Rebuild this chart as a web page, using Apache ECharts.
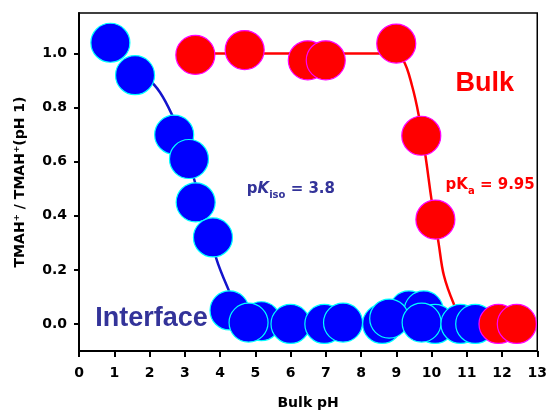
<!DOCTYPE html>
<html>
<head>
<meta charset="utf-8">
<script src="https://cdn.jsdelivr.net/npm/echarts@6/dist/echarts.min.js"></script>
<style>
html,body{margin:0;padding:0;background:#fff;}
#chart{width:550px;height:415px;}
</style>
</head>
<body>
<div id="chart"></div>
<script>
// ---- data ----
const interfacePH  = [0.89, 1.59, 2.70, 3.12, 3.31, 3.80, 4.27, 5.17, 4.81, 6.00, 6.96, 7.49, 8.60, 9.36, 9.78, 8.80, 10.10, 9.72, 10.82, 11.24];
const interfaceVal = [1.04, 0.92, 0.70, 0.61, 0.45, 0.32, 0.05, 0.01, 0.005, 0.0, 0.0, 0.005, 0.0, 0.05, 0.05, 0.02, 0.0, 0.005, 0.0, 0.0];

const bulkPH  = [3.30, 4.70, 6.49, 7.00, 9.00, 9.71, 10.11, 11.90, 12.42];
const bulkVal = [0.995, 1.013, 0.975, 0.975, 1.037, 0.696, 0.386, 0.0, 0.0];

// fitted curves
const interfaceFitPH  = [1.59, 2.00, 2.30, 2.63, 3.00, 3.30, 3.60, 3.90, 4.23, 4.55, 5.00, 6.00, 8.00, 10.00, 11.24];
const interfaceFitVal = [0.92, 0.90, 0.856, 0.776, 0.66, 0.52, 0.40, 0.24, 0.13, 0.04, 0.01, 0.0, 0.0, 0.0, 0.0];

const bulkFitPH  = [3.30, 8.90, 9.20, 9.45, 9.64, 9.83, 10.00, 10.20, 10.35, 10.63, 10.90, 12.42];
const bulkFitVal = [1.0, 1.0, 0.975, 0.88, 0.77, 0.62, 0.46, 0.30, 0.18, 0.075, 0.01, 0.0];

const xTicks = [0,1,2,3,4,5,6,7,8,9,10,11,12,13];
const yTicks = [0.0, 0.2, 0.4, 0.6, 0.8, 1.0];

// annotations anchored in data coordinates
const notes = [
  {id:'bulk', ph:10.68, v:0.89, text:'Bulk', color:'#FF0000', font:'Liberation Sans', size:27},
  {id:'iface', ph:0.46, v:0.02, text:'Interface', color:'#333399', font:'Liberation Sans', size:27},
  {id:'pkiso', ph:4.76, v:0.50, rich:true, color:'#333399'},
  {id:'pka', ph:10.40, v:0.515, rich:true, color:'#FF0000'}
];

const zip = (a,b) => a.map((x,i)=>[x,b[i]]);

const chart = echarts.init(document.getElementById('chart'), null, {renderer:'canvas'});
const tickFont = {fontFamily:'DejaVu Sans', fontWeight:'bold', fontSize:14, color:'#000'};

chart.setOption({
  animation:false,
  backgroundColor:'#fff',
  grid:{left:79, right:12, top:13, bottom:62, show:true, borderColor:'#000', borderWidth:1.5, backgroundColor:'transparent'},
  xAxis:{
    type:'value', min:0, max:13, interval:1,
    name:'Bulk pH', nameLocation:'middle', nameGap:45,
    nameTextStyle:{fontFamily:'DejaVu Sans', fontWeight:'bold', fontSize:14, color:'#000'},
    axisLine:{show:true, onZero:false, lineStyle:{color:'#000', width:2}},
    axisTick:{show:true, inside:false, length:6, lineStyle:{color:'#000', width:2}},
    axisLabel:Object.assign({margin:15}, tickFont),
    splitLine:{show:false}
  },
  yAxis:{
    type:'value', min:-0.1, max:1.15,
    name:'TMAH\u207A / TMAH\u207A(pH 1)', nameLocation:'middle', nameGap:52, nameRotate:90,
    nameTextStyle:{fontFamily:'DejaVu Sans', fontWeight:'bold', fontSize:14, color:'#000'},
    axisLine:{show:true, onZero:false, lineStyle:{color:'#000', width:2}},
    axisTick:{show:true, inside:false, length:5, customValues:yTicks, lineStyle:{color:'#000', width:2}},
    axisLabel:Object.assign({margin:12, customValues:yTicks, formatter:v=>v.toFixed(1)}, tickFont),
    splitLine:{show:false}
  },
  series:[
    {type:'line', data:zip(interfaceFitPH, interfaceFitVal), smooth:0.3, symbol:'none',
     lineStyle:{color:'#1414CC', width:2.5}, z:1},
    {type:'line', data:zip(bulkFitPH, bulkFitVal), smooth:0.35, symbol:'none',
     lineStyle:{color:'#FF0000', width:2.5}, z:1},
    {type:'scatter', data:zip(interfacePH, interfaceVal), symbol:'circle', symbolSize:39,
     itemStyle:{color:'#0000FF', borderColor:'#00FFFF', borderWidth:1.2, opacity:1}, z:2},
    {type:'scatter', data:zip(bulkPH, bulkVal), symbol:'circle', symbolSize:39,
     itemStyle:{color:'#FF0000', borderColor:'#FF00FF', borderWidth:1.2, opacity:1}, z:3}
  ]
});

function buildGraphics(){
  const els = notes.map(n=>{
    const p = chart.convertToPixel({gridIndex:0}, [n.ph, n.v]);
    if(!n.rich){
      return {type:'text', x:p[0], y:p[1], z:10,
        style:{text:n.text, fill:n.color, font:'bold '+n.size+'px "'+n.font+'"', verticalAlign:'middle', align:'left'}};
    }
    const base = {fill:n.color, fontFamily:'DejaVu Sans', fontWeight:'bold', fontSize:15, lineHeight:24, verticalAlign:'middle'};
    const txt = n.id==='pka' ? '{b|pK}{s|a}{b| = 9.95}' : '{b|p}{k|K}{s|iso}{b| = 3.8}';
    return {type:'text', x:p[0], y:p[1], z:10,
      style:{text:txt, verticalAlign:'middle', align:'left',
        rich:{
          b:base,
          k:Object.assign({}, base, {fontStyle:'italic'}),
          s:{fill:n.color, fontFamily:'DejaVu Sans', fontWeight:'bold', fontSize:10, lineHeight:10, verticalAlign:'bottom'}
        }}};
  });
  chart.setOption({graphic:{elements:els}});
}
buildGraphics();
</script>
</body>
</html>
